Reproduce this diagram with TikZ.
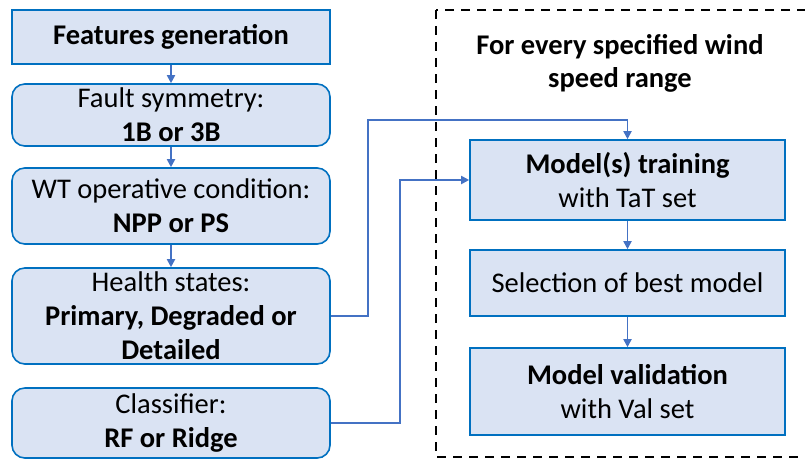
\documentclass[tikz,border=0pt]{standalone}
\usepackage{fontspec}
\setmainfont{Carlito}
\usepackage{xcolor}
\definecolor{boxfill}{HTML}{DAE3F3}
\definecolor{boxline}{HTML}{0070C0}
\definecolor{arrline}{HTML}{4472C4}
\usetikzlibrary{arrows.meta}

\begin{document}
\begin{tikzpicture}[
    x=1pt, y=-1pt,
    block/.style={rectangle, draw=boxline, fill=boxfill, line width=1.6pt, text centered, text=black,
      font=\fontsize{28.5}{34}\selectfont, align=center, inner sep=0pt},
    rblock/.style={block, rounded corners=4.5mm},
    link/.style={draw=arrline, line width=1.8pt, -{Triangle[length=8pt, width=8pt]}},
    ]
      \useasboundingbox (0,0) rectangle (805,460);
      % frame for the wind speed loop
      \draw [dashed, line width=1.8pt, dash pattern=on 9pt off 7pt] (436,10) rectangle (830,457);
      \node [align=center, font=\fontsize{28.5}{33}\selectfont\bfseries] (title) at (620,63)
        {For every specified wind\\speed range};

      % left column
      \node [block, minimum width=318pt, minimum height=54pt] (gen) at (171,37) {\textbf{Features generation}};
      \node [rblock, minimum width=318pt, minimum height=62pt] (sym) at (171,115) {Fault symmetry:\\\textbf{1B or 3B}};
      \node [rblock, minimum width=318pt, minimum height=76pt] (wt) at (171,206) {WT operative condition:\\\textbf{NPP or PS}};
      \node [rblock, minimum width=318pt, minimum height=96pt] (health) at (171,316) {Health states:\\\textbf{Primary, Degraded or}\\\textbf{Detailed}};
      \node [rblock, minimum width=318pt, minimum height=70pt] (clf) at (171,423) {Classifier:\\\textbf{RF or Ridge}};

      % right column
      \node [block, minimum width=315pt, minimum height=80pt] (train) at (627.5,180) {\textbf{Model(s) training}\\with TaT set};
      \node [block, minimum width=315pt, minimum height=66pt] (sel) at (627.5,283) {Selection of best model};
      \node [block, minimum width=315pt, minimum height=87pt] (val) at (627.5,391.5) {\textbf{Model validation}\\with Val set};

      \coordinate (h1) at (368,316);
      \coordinate (h2) at (368,120);
      \coordinate (c1) at (400,423);
      \coordinate (c2) at (400,180);

      \draw [link] (gen) -- (sym);
      \draw [link] (sym) -- (wt);
      \draw [link] (wt) -- (health);
      \draw [link] (health.east) -- (h1) -- (h2) -| (train.north);
      \draw [link] (clf.east) -- (c1) -- (c2) -- (train.west);
      \draw [link] (train) -- (sel);
      \draw [link] (sel) -- (val);
  \end{tikzpicture}
\end{document}
